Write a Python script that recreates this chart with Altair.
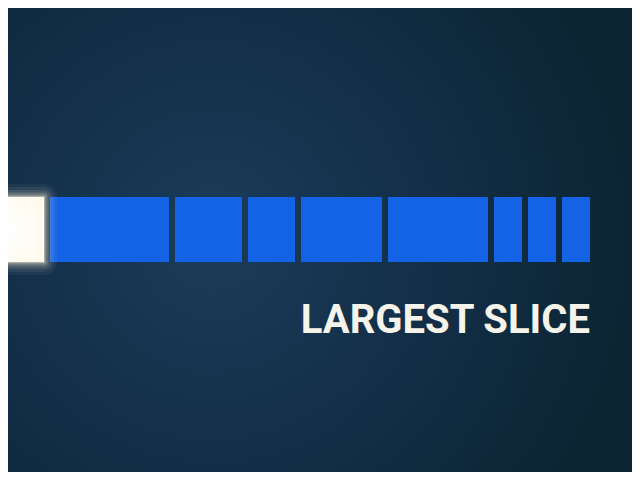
import altair as alt
import pandas as pd

# ---- data ----
slice_names = ["Slice 1", "Slice 2", "Slice 3", "Slice 4", "Slice 5",
               "Slice 6", "Slice 7", "Slice 8", "Slice 9"]
slice_sizes = [150, 125, 73, 53, 87, 106, 34, 34, 34]
is_largest = [True, False, False, False, False, False, False, False, False]
caption = ["LARGEST SLICE"]

# ---- tables built from the arrays ----
ends = pd.Series(slice_sizes).cumsum()
starts = ends - pd.Series(slice_sizes)
df = pd.DataFrame({
    "name": slice_names,
    "size": slice_sizes,
    "start": starts,
    "end": ends,
    "largest": is_largest,
    "row": ["bar"] * len(slice_names),
})
total = int(ends.iloc[-1])
text_df = pd.DataFrame({"label": caption, "pos": [total]})
bg_df = pd.DataFrame({"k": [0]})

W, H = 624, 464
GAP = 6
xscale = alt.Scale(domain=[108, 732], nice=False, zero=False)
yscale = alt.Scale(range=[189, 254], paddingInner=0, paddingOuter=0)

bg = alt.Chart(bg_df).mark_rect(
    color=alt.RadialGradient(
        gradient="radial",
        x1=0.33, y1=0.5, r1=0.0,
        x2=0.33, y2=0.5, r2=0.7,
        stops=[
            alt.GradientStop(color="#1b3c58", offset=0.0),
            alt.GradientStop(color="#14304a", offset=0.45),
            alt.GradientStop(color="#0b2431", offset=1.0),
        ],
    )
).encode(
    x=alt.value(0), x2=alt.value("width"),
    y=alt.value(0), y2=alt.value("height"),
)

base = alt.Chart(df).encode(
    x=alt.X("start:Q", scale=xscale, axis=None),
    x2="end:Q",
    y=alt.Y("row:N", scale=yscale, axis=None),
)

blue = base.transform_filter("!datum.largest").mark_rect(
    color="#1463E6", x2Offset=-GAP, clip=True
)

hl = base.transform_filter("datum.largest")
glow_layers = [
    hl.mark_rect(fillOpacity=0, stroke="#fff4d8", strokeWidth=w,
                 strokeOpacity=o, strokeJoin="round", x2Offset=-GAP, clip=True)
    for w, o in [(26, 0.05), (20, 0.07), (14, 0.10), (9, 0.15), (5, 0.22), (2, 0.35)]
]
cream = hl.mark_rect(
    x2Offset=-GAP, clip=True,
    color=alt.RadialGradient(
        gradient="radial",
        x1=0.72, y1=0.5, r1=0.0,
        x2=0.72, y2=0.5, r2=0.45,
        stops=[
            alt.GradientStop(color="#ffffff", offset=0.0),
            alt.GradientStop(color="#fff8e6", offset=1.0),
        ],
    ),
)

text = alt.Chart(text_df).mark_text(
    font="Roboto", fontWeight="bold", fontSize=40, color="#f5f3ea",
    align="right", baseline="alphabetic", dx=-GAP,
).encode(
    x=alt.X("pos:Q", scale=xscale, axis=None),
    y=alt.value(325),
    text="label:N",
)

chart = alt.layer(bg, blue, *glow_layers, cream, text).properties(
    width=W, height=H, padding=0, background="#0c2634",
).configure_view(stroke=None)

chart.save("out.html", embed_options={"renderer": "svg", "actions": False})
